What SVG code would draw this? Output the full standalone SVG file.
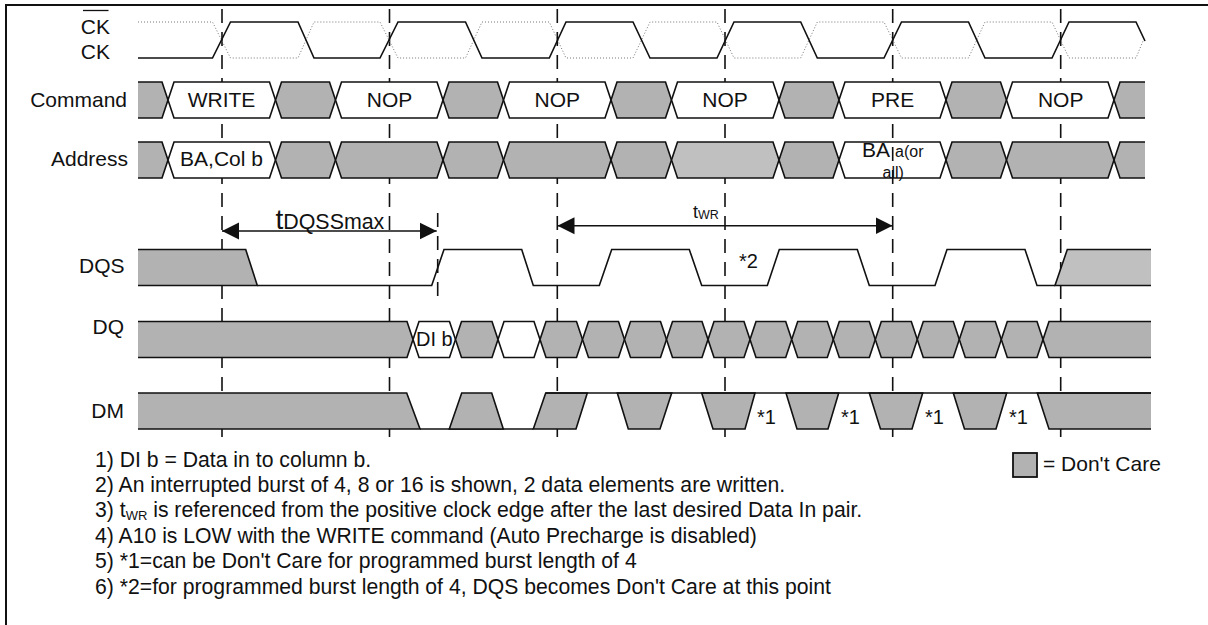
<svg xmlns="http://www.w3.org/2000/svg" width="1208" height="625" viewBox="0 0 1208 625">
<style>
text{font-family:"Liberation Sans",Arial,sans-serif;font-size:21px;fill:#111}
.g{fill:#b2b2b2}.l{fill:#c0c0c0}.w{fill:#fff}.n{fill:none}
.s path{stroke:#111;stroke-width:1.6;stroke-linejoin:miter}
.d{stroke:#111;stroke-width:1.6;stroke-dasharray:14 9;fill:none}
.a{stroke:#111;stroke-width:1.5;fill:none;marker-start:url(#ah);marker-end:url(#ah)}
.m{text-anchor:middle}
.r{text-anchor:end}
.note{font-size:21.2px}
.star{font-size:20px}
</style>
<defs>
<marker id="ah" markerUnits="userSpaceOnUse" markerWidth="18" markerHeight="18" refX="17" refY="9" orient="auto-start-reverse"><path d="M0 0.5L17 9 0 17.5z" fill="#111"/></marker>
</defs>
<g id="frame"><path d="M6 625V5H1208" fill="none" stroke="#111" stroke-width="2"/></g>
<g id="connectors">
<path class="d" d="M222 9V437M389.5 9V437M557.3 9V437M725 9V437M892.7 9V437M1060.7 9V437"/>
<path class="d" d="M437.7 213V296"/>
</g>
<g id="ck" class="s">
<path class="n" style="stroke:#777;stroke-width:1;stroke-dasharray:1 2" d="M138 22H212.5L230.5 58H298L314 22H380L398 58H465.5L482 22H549.3L566 58H633L650 22H717L734 58H800.7L817.3 22H884L901.5 58H968.5L985 22H1052L1069 58H1136L1143 41"/>
<path class="n" d="M138 58H212.5L230.5 22H298L314 58H380L398 22H465.5L482 58H549.3L566 22H633L650 58H717L734 22H800.7L817.3 58H884L901.5 22H968.5L985 58H1052L1069 22H1136L1145 41"/>
</g>
<g id="command" class="s" transform="translate(0,82)">
<path class="g" d="M138 0H162L168 18 162 36H138"/>
<path class="w" d="M168 18L174 0H269.5L275.5 18 269.5 36H174Z"/>
<path class="g" d="M275.5 18L281.5 0H329.5L335.5 18 329.5 36H281.5Z"/>
<path class="w" d="M335.5 18L341.5 0H437L443 18 437 36H341.5Z"/>
<path class="g" d="M443 18L449 0H497.5L503.5 18 497.5 36H449Z"/>
<path class="w" d="M503.5 18L509.5 0H605L611 18 605 36H509.5Z"/>
<path class="g" d="M611 18L617 0H665.5L671.5 18 665.5 36H617Z"/>
<path class="w" d="M671.5 18L677.5 0H773L779 18 773 36H677.5Z"/>
<path class="g" d="M779 18L785 0H833L839 18 833 36H785Z"/>
<path class="w" d="M839 18L845 0H940L946 18 940 36H845Z"/>
<path class="g" d="M946 18L952 0H1000.5L1006.5 18 1000.5 36H952Z"/>
<path class="w" d="M1006.5 18L1012.5 0H1108L1114 18 1108 36H1012.5Z"/>
<path class="g" d="M1145 0H1120L1114 18 1120 36H1145"/>
</g>
<g id="address" class="s" transform="translate(0,142)">
<path class="g" d="M138 0H162L168 18 162 36H138"/>
<path class="w" d="M168 18L174 0H269.5L275.5 18 269.5 36H174Z"/>
<path class="g" d="M275.5 18L281.5 0H329.5L335.5 18 329.5 36H281.5Z"/>
<path class="g" d="M335.5 18L341.5 0H437L443 18 437 36H341.5Z"/>
<path class="g" d="M443 18L449 0H497.5L503.5 18 497.5 36H449Z"/>
<path class="g" d="M503.5 18L509.5 0H605L611 18 605 36H509.5Z"/>
<path class="g" d="M611 18L617 0H665.5L671.5 18 665.5 36H617Z"/>
<path class="l" d="M671.5 18L677.5 0H773L779 18 773 36H677.5Z"/>
<path class="g" d="M779 18L785 0H833L839 18 833 36H785Z"/>
<path class="n" d="M839 18L845 0H940L946 18 940 36H845Z"/>
<path class="g" d="M946 18L952 0H1000.5L1006.5 18 1000.5 36H952Z"/>
<path class="g" d="M1006.5 18L1012.5 0H1108L1114 18 1108 36H1012.5Z"/>
<path class="g" d="M1145 0H1120L1114 18 1120 36H1145"/>
</g>
<g id="dqs" class="s" transform="translate(0,249.5)">
<path class="g" d="M138 0H245.7L257.3 36H138"/>
<path class="n" d="M257.3 36H431.7L444 0H521.7L533.3 36H599.3L611.7 0H689.3L701.7 36H767.3L779.3 0H857.3L869.3 36H935L947 0H1025L1037 36H1055"/>
<path class="l" d="M1151 0H1067.3L1055 36H1151"/>
</g>
<g id="dq" class="s" transform="translate(0,321.5)">
<path class="g" d="M138 0H407L413 18 407 36H138"/>
<path class="w" d="M413 18L419 0H449.5L455.5 18 449.5 36H419Z"/>
<path class="g" d="M455.5 18L461.5 0H492L498 18 492 36H461.5Z"/>
<path class="w" d="M498 18L504 0H534L540 18 534 36H504Z"/>
<path class="g" d="M540 18L546 0H576.5L582.5 18 576.5 36H546Z"/>
<path class="g" d="M582.5 18L588.5 0H618.5L624.5 18 618.5 36H588.5Z"/>
<path class="g" d="M624.5 18L630.5 0H660.5L666.5 18 660.5 36H630.5Z"/>
<path class="g" d="M666.5 18L672.5 0H702L708 18 702 36H672.5Z"/>
<path class="g" d="M708 18L714 0H744L750 18 744 36H714Z"/>
<path class="g" d="M750 18L756 0H785.7L791.7 18 785.7 36H756Z"/>
<path class="g" d="M791.7 18L797.7 0H827.3L833.3 18 827.3 36H797.7Z"/>
<path class="g" d="M833.3 18L839.3 0H869.3L875.3 18 869.3 36H839.3Z"/>
<path class="g" d="M875.3 18L881.3 0H911.3L917.3 18 911.3 36H881.3Z"/>
<path class="g" d="M917.3 18L923.3 0H953.3L959.3 18 953.3 36H923.3Z"/>
<path class="g" d="M959.3 18L965.3 0H995.3L1001.3 18 995.3 36H965.3Z"/>
<path class="g" d="M1001.3 18L1007.3 0H1037L1043 18 1037 36H1007.3Z"/>
<path class="g" d="M1151 0H1049L1043 18 1049 36H1151"/>
</g>
<g id="dm" class="s" transform="translate(0,393)">
<path class="g" d="M138 0H406.7L420 36H138"/>
<path class="n" d="M420 36H533.3"/>
<path class="g" d="M449.3 36L461.7 0H491.7L503.3 36Z"/>
<path class="g" d="M533.3 36L545.7 0H587.3L576 36Z"/>
<path class="g" d="M617.3 0H671.7L660 36H628.3Z"/>
<path class="g" d="M701.7 0H755L745 36H713Z"/>
<path class="g" d="M786 0H838.7L828 36H797Z"/>
<path class="g" d="M869.3 0H922.7L912 36H880.5Z"/>
<path class="g" d="M953.3 0H1006.7L996 36H964.5Z"/>
<path class="g" d="M1151 0H1037.3L1049 36H1151"/>
<path class="n" d="M545.7 0H1151"/>
</g>
<g id="arrows">
<path class="a" d="M222 231H436.7"/>
<path class="a" d="M557.5 225.7H892.5"/>
</g>
<g id="labels">
<text x="110" y="34" class="r">CK</text>
<path d="M83 10.5H108.5" stroke="#111" stroke-width="1.3"/>
<text x="110" y="59" class="r">CK</text>
<text x="127" y="106.5" class="r">Command</text>
<text x="128" y="165.5" class="r">Address</text>
<text x="124.5" y="273" class="r">DQS</text>
<text x="124" y="334" class="r">DQ</text>
<text x="124" y="417.5" class="r">DM</text>
<text x="221.5" y="106.5" class="m">WRITE</text>
<text x="389.5" y="106.5" class="m">NOP</text>
<text x="557.3" y="106.5" class="m">NOP</text>
<text x="725" y="106.5" class="m">NOP</text>
<text x="892.7" y="106.5" class="m">PRE</text>
<text x="1060.7" y="106.5" class="m">NOP</text>
<text x="221.5" y="165.5" class="m">BA,Col b</text>
<text x="862" y="156.5">BA</text>
<text x="895" y="157" style="font-size:16px">a(or</text>
<text x="882.5" y="178" style="font-size:16px">all)</text>
<text x="416" y="345.5" class="star">DI b</text>
<text x="275.5" y="229" style="font-size:28px">t<tspan style="font-size:21.4px">DQSSmax</tspan></text>
<text x="693" y="218" style="font-size:18px">t<tspan style="font-size:12.5px" dy="1">WR</tspan></text>
<text x="739" y="267.5" class="star">*2</text>
<text x="757" y="424" class="star">*1</text>
<text x="841" y="424" class="star">*1</text>
<text x="925" y="424" class="star">*1</text>
<text x="1009" y="424" class="star">*1</text>
</g>
<g id="notes">
<text class="note" x="95" y="466.5">1) DI b = Data in to column b.</text>
<text class="note" x="95" y="491.5">2) An interrupted burst of 4, 8 or 16 is shown, 2 data elements are written.</text>
<text class="note" x="95" y="517">3) t<tspan style="font-size:13px" dy="3">WR</tspan><tspan dy="-3"> is referenced from the positive clock edge after the last desired Data In pair.</tspan></text>
<text class="note" x="95" y="542.5">4) A10 is LOW with the WRITE command (Auto Precharge is disabled)</text>
<text class="note" x="95" y="568">5) *1=can be Don't Care for programmed burst length of 4</text>
<text class="note" x="95" y="594">6) *2=for programmed burst length of 4, DQS becomes Don't Care at this point</text>
</g>
<g id="legend">
<rect x="1013" y="453" width="24" height="24" fill="#b2b2b2" stroke="#111" stroke-width="1.8"/>
<text x="1043" y="470.5">= Don't Care</text>
</g>
</svg>
